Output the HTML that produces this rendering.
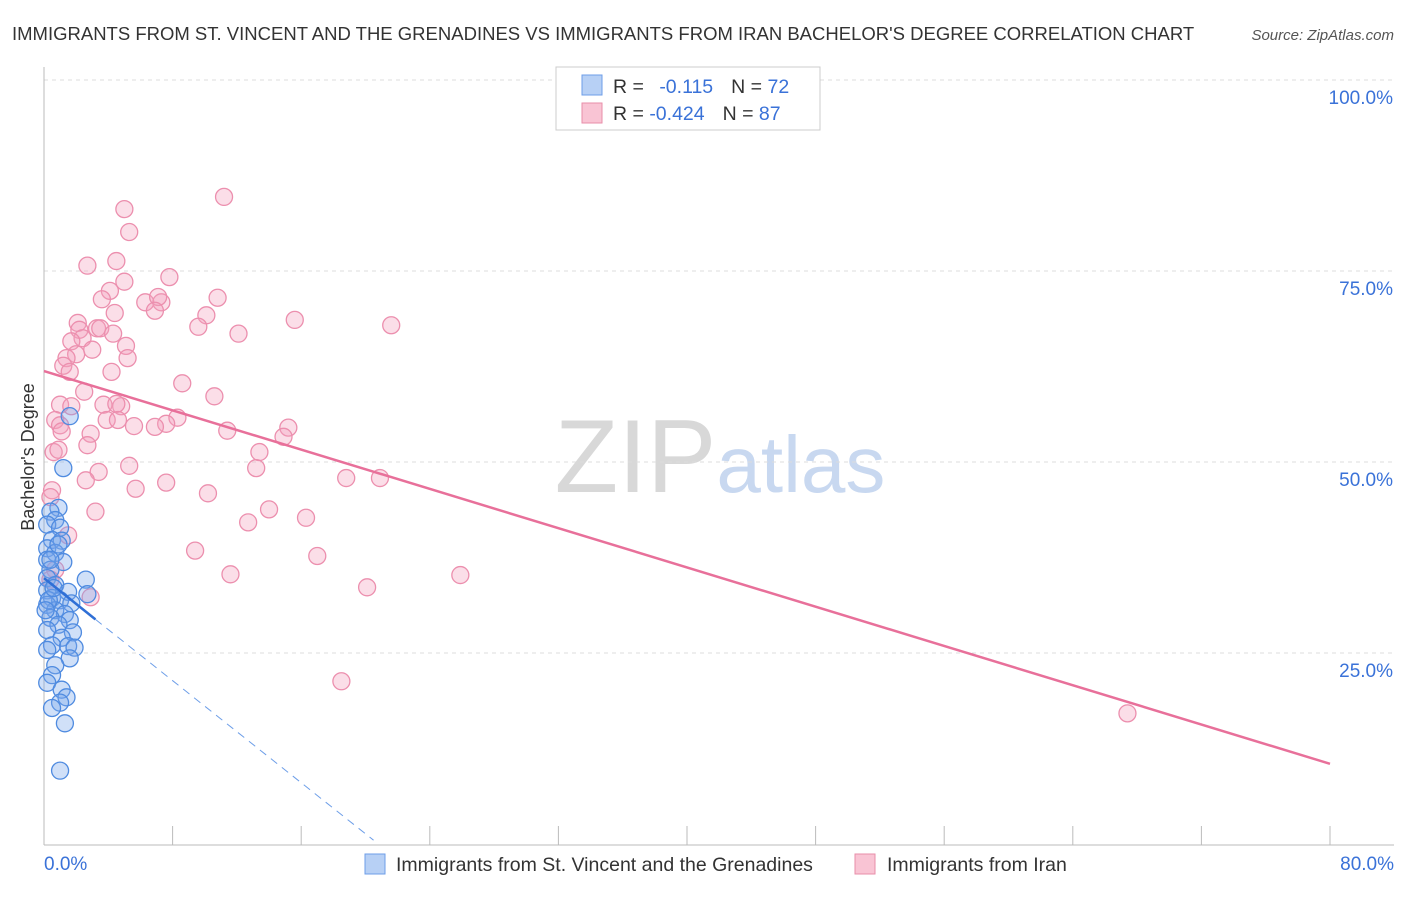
<!DOCTYPE html>
<html><head><meta charset="utf-8"><style>
body{margin:0;background:#fff;font-family:"Liberation Sans",sans-serif}
svg text{font-family:"Liberation Sans",sans-serif}
</style></head><body>
<svg width="1406" height="892" viewBox="0 0 1406 892" xmlns="http://www.w3.org/2000/svg" id="chart">
<text x="12" y="40" font-size="18.5" fill="#333">IMMIGRANTS FROM ST. VINCENT AND THE GRENADINES VS IMMIGRANTS FROM IRAN BACHELOR'S DEGREE CORRELATION CHART</text>
<text x="1394" y="40" font-size="15" fill="#555" font-style="italic" text-anchor="end">Source: ZipAtlas.com</text>
<text x="720" y="492" font-size="104" text-anchor="middle" fill="#ddd" font-family="Liberation Serif"><tspan fill="#d8d8d8">ZIP</tspan><tspan fill="#c8d8f0" font-family="Liberation Sans" font-size="80">atlas</tspan></text>
<g id="grid"></g>
<g id="axes"></g>
<g id="pts"></g>
<g id="lines"></g>
<text transform="translate(34,457) rotate(-90)" font-size="18" fill="#333" text-anchor="middle">Bachelor's Degree</text>
<g>
<rect x="556" y="67" width="264" height="63" fill="#fff" stroke="#ccc"/>
<rect x="582" y="75" width="20" height="20" fill="#b7d0f5" stroke="#6d9ee8"/>
<rect x="582" y="103" width="20" height="20" fill="#f9c4d4" stroke="#e88ea9"/>
<text x="613" y="93" font-size="19.5" fill="#333">R = <tspan fill="#3a72d8" dx="10">-0.115</tspan><tspan dx="18" fill="#333">N = </tspan><tspan fill="#3a72d8">72</tspan></text>
<text x="613" y="120" font-size="19.5" fill="#333">R = <tspan fill="#3a72d8">-0.424</tspan><tspan dx="18" fill="#333">N = </tspan><tspan fill="#3a72d8">87</tspan></text>
</g>
<g>
<rect x="365" y="854" width="20" height="20" fill="#b7d0f5" stroke="#6d9ee8"/>
<text x="396" y="871" font-size="19.5" fill="#333">Immigrants from St. Vincent and the Grenadines</text>
<rect x="855" y="854" width="20" height="20" fill="#f9c4d4" stroke="#e88ea9"/>
<text x="887" y="871" font-size="19.5" fill="#333">Immigrants from Iran</text>
</g>
</svg>
<script>
const xTicks=[0,8,16,24,32,40,48,56,64,72,80];
const yTicks=[25,50,75,100];
const yTickLabels=["25.0%","50.0%","75.0%","100.0%"];
const xTickLabels=["0.0%","80.0%"];
const blueX=[1.6,1.2,0.9,0.4,0.7,0.2,1.0,0.5,1.1,0.2,0.7,0.2,1.2,0.4,0.2,2.6,0.7,0.2,1.5,2.7,0.5,1.0,1.7,0.2,0.7,1.3,0.4,1.6,0.9,0.2,1.8,1.1,0.5,1.5,1.9,0.2,1.6,0.7,0.5,0.2,1.1,1.4,1.0,0.5,1.3,1.0,0.3,0.4,0.1,0.9,0.6];
const blueY=[56.0,49.2,44.0,43.5,42.4,41.8,41.4,39.8,39.7,38.7,38.1,37.2,36.9,35.9,34.8,34.6,33.9,33.2,33.0,32.7,32.2,31.9,31.5,31.3,30.6,30.1,29.6,29.3,28.7,28.0,27.7,27.0,26.0,25.9,25.7,25.4,24.3,23.4,22.1,21.1,20.2,19.2,18.5,17.8,15.8,9.6,31.9,37.2,30.6,39.2,33.5];
const pinkX=[11.2,5.0,5.3,2.7,4.5,7.8,5.0,4.1,3.6,6.3,7.3,10.8,7.1,6.9,4.4,10.1,15.6,21.6,2.1,2.2,3.3,3.5,9.6,4.3,12.1,2.4,1.7,5.1,3.0,2.0,1.4,5.2,1.2,1.6,4.2,8.6,2.5,10.6,1.0,1.7,3.7,4.8,4.5,0.7,1.0,3.9,4.6,8.3,7.6,5.6,6.9,1.1,2.9,11.4,15.2,14.9,2.7,0.6,13.4,5.3,13.2,3.4,2.6,18.8,20.9,7.6,5.7,0.5,0.4,10.2,3.2,14.0,16.3,12.7,1.5,9.4,17.0,0.7,11.6,25.9,20.1,2.9,18.5,67.4,0.4,0.9];
const pinkY=[84.7,83.1,80.1,75.7,76.3,74.2,73.6,72.4,71.3,70.9,70.9,71.5,71.6,69.8,69.5,69.2,68.6,67.9,68.2,67.3,67.5,67.5,67.7,66.8,66.8,66.2,65.8,65.2,64.7,64.1,63.6,63.6,62.6,61.8,61.8,60.3,59.2,58.6,57.5,57.3,57.5,57.3,57.6,55.5,54.8,55.5,55.5,55.8,55.0,54.7,54.6,54.0,53.7,54.1,54.5,53.3,52.2,51.3,51.3,49.5,49.2,48.7,47.6,47.9,47.9,47.3,46.5,46.3,45.4,45.9,43.5,43.8,42.7,42.1,40.4,38.4,37.7,35.9,35.3,35.2,33.6,32.3,21.3,17.1,34.6,51.6];
const pinkTrend=[0,61.9,80,10.5];
const blueTrend=[0,34.8,3.2,29.4,20.5,0.5];
const X=v=>44+v*16.075, Y=v=>844-v*7.64;
const NS="http://www.w3.org/2000/svg";
function mk(t,a,p){const e=document.createElementNS(NS,t);for(const k in a)e.setAttribute(k,a[k]);document.getElementById(p).appendChild(e);return e;}
yTicks.forEach((t,i)=>{
 const g=mk('line',{x1:44,x2:1394,y1:Y(t),y2:Y(t),stroke:'#ddd','stroke-dasharray':'4,4'},'grid');
 
 
 const l=mk('text',{x:1393,y:Y(t)+24,'font-size':19,fill:'#3a72d8','text-anchor':'end'},'axes');l.textContent=yTickLabels[i];
 
 
});
mk('line',{x1:44,x2:44,y1:67,y2:845,stroke:'#bbb'},'axes');
mk('line',{x1:44,x2:1394,y1:845,y2:845,stroke:'#bbb'},'axes');
xTicks.forEach(t=>{const e=mk('line',{x1:X(t),x2:X(t),y1:826,y2:845,stroke:'#bbb'},'axes');
 
 });
[[0,'start',44],[80,'end',1394]].forEach((d,i)=>{const l=mk('text',{x:d[2],y:870,'font-size':19,fill:'#3a72d8','text-anchor':d[1]},'axes');l.textContent=xTickLabels[i];
 
 });
pinkX.forEach((x,i)=>{const c=mk('circle',{cx:X(x),cy:Y(pinkY[i]),r:8.5,fill:'rgba(244,160,188,0.35)',stroke:'#ec8fae','stroke-width':1.3},'pts');
 
 });
blueX.forEach((x,i)=>{const c=mk('circle',{cx:X(x),cy:Y(blueY[i]),r:8.5,fill:'rgba(120,165,235,0.35)',stroke:'#4f8be0','stroke-width':1.3},'pts');
 
 });
const pl=mk('line',{x1:X(pinkTrend[0]),y1:Y(pinkTrend[1]),x2:X(pinkTrend[2]),y2:Y(pinkTrend[3]),stroke:'#e8709a','stroke-width':2.5},'lines');


const bl=mk('line',{x1:X(blueTrend[0]),y1:Y(blueTrend[1]),x2:X(blueTrend[2]),y2:Y(blueTrend[3]),stroke:'#2f6fd6','stroke-width':2.5},'lines');


const bd=mk('line',{x1:X(blueTrend[2]),y1:Y(blueTrend[3]),x2:X(blueTrend[4]),y2:Y(blueTrend[5]),stroke:'#6d9ee8','stroke-width':1,'stroke-dasharray':'8,6'},'lines');


</script>
</body></html>
